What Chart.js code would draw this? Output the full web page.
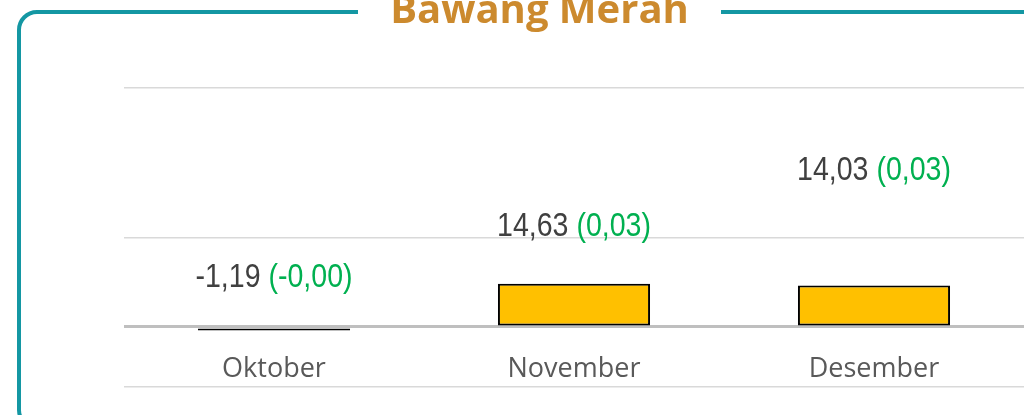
<!DOCTYPE html>
<html>
<head>
<meta charset="utf-8">
<script src="https://cdn.jsdelivr.net/npm/chart.js@4/dist/chart.umd.min.js"></script>
<style>
  html, body { margin: 0; padding: 0; background: #fff; overflow: hidden; }
  #wrap { position: relative; width: 1024px; height: 415px; }
  #chart { position: absolute; left: 0; top: 0; }
  #frame {
    position: absolute; left: 17px; top: 10px; width: 1100px; height: 420px;
    border: 4px solid #1497a3; border-radius: 20px; box-sizing: border-box;
  }
  #title {
    position: absolute; left: 358px; width: 363px; top: -17px; height: 50px;
    background: #fff; text-align: center;
    font-family: "Open Sans", sans-serif; font-weight: 700; font-size: 40px;
    line-height: 50px; color: #cc8a2e;
  }
</style>
</head>
<body>
<div id="wrap">
  <canvas id="chart" width="1024" height="415"></canvas>
  <div id="frame"></div>
  <div id="title">Bawang Merah</div>
</div>
<script>
  // Data
  let months = ['Oktober', 'November', 'Desember'];
  let values = [-1.19, 14.63, 14.03];
  let changes = [-0.00, 0.03, 0.03];
  // hidden series the data labels sit on
  let labelLine = [16.7, 34.1, 52.9];
  let yTicks = [-20.4, 0, 30.35, 81.1];

  function fmt(v) {
    let neg = v < 0 || Object.is(v, -0);
    return (neg ? '-' : '') + Math.abs(v).toFixed(2).replace('.', ',');
  }

  // Value labels: "14,63" in gray, "(0,03)" in green, narrow type
  let valueLabels = {
    id: 'valueLabels',
    afterDatasetsDraw: function (chart) {
      let ctx = chart.ctx;
      let meta = chart.getDatasetMeta(1);
      let squeeze = 0.84;
      ctx.save();
      ctx.font = '34px "Liberation Sans", Arial, sans-serif';
      ctx.textBaseline = 'middle';
      meta.data.forEach(function (pt, i) {
        let a = fmt(values[i]);
        let b = ' (' + fmt(changes[i]) + ')';
        let wa = ctx.measureText(a).width;
        let wb = ctx.measureText(b).width;
        ctx.save();
        ctx.translate(pt.x, pt.y);
        ctx.scale(squeeze, 1);
        let x = -(wa + wb) / 2;
        ctx.fillStyle = '#404040';
        ctx.fillText(a, x, 0);
        ctx.fillStyle = '#00b050';
        ctx.fillText(b, x + wa, 0);
        ctx.restore();
      });
      ctx.restore();
    }
  };

  new Chart(document.getElementById('chart'), {
    type: 'bar',
    data: {
      labels: months,
      datasets: [{
        data: values,
        backgroundColor: '#ffc000',
        borderColor: '#000000',
        borderWidth: 2,
        borderSkipped: false,
        categoryPercentage: 1,
        barPercentage: 0.507,
        order: 2
      }, {
        type: 'line',
        data: labelLine,
        showLine: false,
        pointRadius: 0,
        order: 1
      }]
    },
    options: {
      responsive: false,
      animation: false,
      events: [],
      layout: { padding: { left: 124, right: 0, top: 88, bottom: 28 } },
      plugins: { legend: { display: false }, tooltip: { enabled: false } },
      scales: {
        x: {
          position: { y: 0 },
          grid: { display: false },
          border: { display: false },
          ticks: {
            color: '#595959',
            padding: 18,
            font: { family: '"Open Sans", sans-serif', size: 27 }
          }
        },
        y: {
          min: -20.4,
          max: 81.1,
          afterBuildTicks: function (axis) {
            axis.ticks = yTicks.map(function (v) { return { value: v }; });
          },
          ticks: { display: false },
          border: { display: false },
          grid: {
            drawTicks: false,
            color: function (c) { return c.tick && c.tick.value === 0 ? '#bfbfbf' : '#d9d9d9'; },
            lineWidth: function (c) { return c.tick && c.tick.value === 0 ? 3 : 1.5; }
          }
        }
      }
    },
    plugins: [valueLabels]
  });
</script>
</body>
</html>
